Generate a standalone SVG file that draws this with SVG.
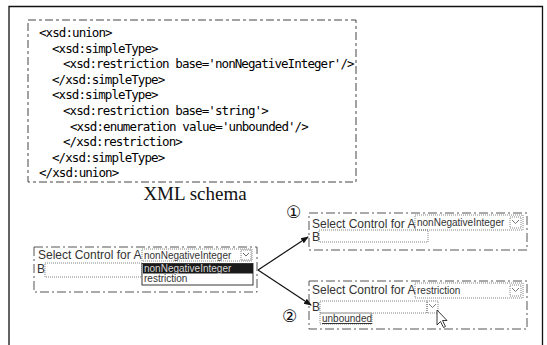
<svg xmlns="http://www.w3.org/2000/svg" width="547" height="345" viewBox="0 0 547 345">
<defs>
<marker id="ah" markerWidth="8" markerHeight="8" refX="7" refY="4" orient="auto" markerUnits="userSpaceOnUse">
<path d="M0,1 L8,4 L0,7 Z" fill="#111"/>
</marker>
<style>
.code{font-family:"DejaVu Sans Mono",monospace;font-size:12.5px;letter-spacing:-0.92px;fill:#000}
.frame{fill:none;stroke:#111;stroke-width:1.3}
.dash{fill:none;stroke:#444;stroke-width:1;stroke-dasharray:8 3 3 3}
.wdash{fill:none;stroke:#555;stroke-width:1;stroke-dasharray:9 3 2 3}
.dot{fill:none;stroke:#666;stroke-width:0.8;stroke-dasharray:1 1}
.lbl{font-family:"Liberation Sans",Arial,sans-serif;font-size:12px;fill:#333}
.small{font-family:"Liberation Sans",Arial,sans-serif;font-size:10px;fill:#333}
.conn{stroke:#111;stroke-width:1.2;fill:none}
.num{font-family:"DejaVu Sans","Noto Sans CJK KR",sans-serif;font-size:17px;fill:#111}
</style>
</defs>
<rect width="547" height="345" fill="#fff"/>
<g id="frame">
<path class="frame" d="M9,345 L9,6.5 L542.5,6.5 L542.5,345"/>
</g>
<g id="xml-code">
<rect class="dash" x="28" y="20" width="328" height="162"/>
<text class="code" x="39" y="37">&lt;xsd:union&gt;</text>
<text class="code" x="52" y="52.6">&lt;xsd:simpleType&gt;</text>
<text class="code" x="63" y="68.2">&lt;xsd:restriction base='nonNegativeInteger'/&gt;</text>
<text class="code" x="52" y="83.8">&lt;/xsd:simpleType&gt;</text>
<text class="code" x="52" y="99.4">&lt;xsd:simpleType&gt;</text>
<text class="code" x="63" y="115">&lt;xsd:restriction base='string'&gt;</text>
<text class="code" x="70" y="130.6">&lt;xsd:enumeration value='unbounded'/&gt;</text>
<text class="code" x="63" y="146.2">&lt;/xsd:restriction&gt;</text>
<text class="code" x="52" y="161.8">&lt;/xsd:simpleType&gt;</text>
<text class="code" x="39" y="177.4">&lt;/xsd:union&gt;</text>
</g>
<g id="caption">
<text x="195" y="200" text-anchor="middle" font-family="'Liberation Serif','Times New Roman',serif" font-size="19" fill="#111">XML schema</text>
</g>
<g id="widget-open">
<rect class="wdash" x="34" y="247" width="223" height="45"/>
<text class="lbl" x="38" y="259">Select Control for A</text>
<rect class="dot" x="142" y="249" width="110" height="12"/>
<text class="small" x="144" y="258.5">nonNegativeInteger</text>
<rect class="dot" x="241" y="250" width="10" height="10"/>
<path d="M243,253 L246,256 L249,253" stroke="#444" stroke-width="0.8" fill="none"/>
<text class="lbl" x="37" y="273">B</text>
<rect class="dot" x="45" y="263" width="97" height="14"/>
<rect x="142" y="263.5" width="111" height="21.5" fill="#fff" stroke="#222" stroke-width="0.9"/>
<rect x="143" y="264" width="110" height="9.5" fill="#1a1a1a"/>
<text class="small" x="144" y="272" style="fill:#d8d8d8">nonNegativeInteger</text>
<text class="small" x="144" y="282">restriction</text>
</g>
<g id="widget-1">
<rect class="wdash" x="309" y="213" width="218" height="37"/>
<text class="lbl" x="312" y="228">Select Control for A</text>
<rect class="dot" x="415" y="215" width="108" height="15"/>
<text class="small" x="417" y="226">nonNegativeInteger</text>
<rect class="dot" x="510" y="217" width="11" height="11"/>
<path d="M512,220 L515.5,223.5 L519,220" stroke="#555" stroke-width="0.8" fill="none"/>
<text class="lbl" x="312" y="241">B</text>
<rect class="dot" x="319" y="230" width="109" height="12"/>
<text class="num" x="286" y="218">①</text>
</g>
<g id="widget-2">
<rect class="wdash" x="309" y="281" width="218" height="48"/>
<text class="lbl" x="312" y="294">Select Control for A</text>
<rect class="dot" x="415" y="283" width="108" height="15"/>
<text class="small" x="417" y="294">restriction</text>
<rect class="dot" x="510" y="285" width="11" height="11"/>
<path d="M512,288 L515.5,291.5 L519,288" stroke="#555" stroke-width="0.8" fill="none"/>
<text class="lbl" x="312" y="311">B</text>
<rect class="dot" x="320" y="301" width="107" height="12"/>
<rect class="dot" x="427" y="301" width="11" height="12"/>
<path d="M429,304 L432.5,307.5 L436,304" stroke="#555" stroke-width="0.8" fill="none"/>
<rect class="dot" x="320" y="313" width="52" height="11"/>
<text class="small" x="322" y="322" text-decoration="underline">unbounded</text>
<path d="M437,310 L437,325 L440.5,321.5 L443.5,327.5 L445.5,326.5 L442.5,320.5 L447,320.5 Z" fill="#fff" stroke="#222" stroke-width="0.9"/>
<text class="num" x="282" y="322">②</text>
</g>
<g id="connectors">
<line class="conn" x1="258" y1="270" x2="308" y2="237" marker-end="url(#ah)"/>
<line class="conn" x1="258" y1="270" x2="311" y2="305" marker-end="url(#ah)"/>
</g>
</svg>
